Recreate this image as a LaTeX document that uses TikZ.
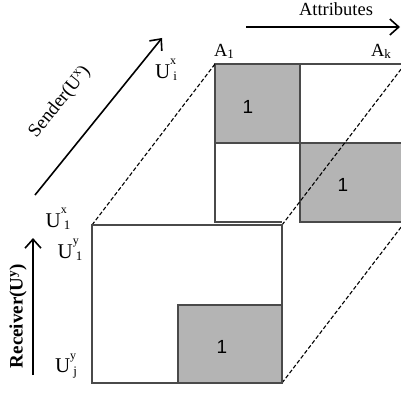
\documentclass[tikz,border=0pt]{standalone}
\usepackage{fontspec}
\setmainfont{Liberation Serif}
\newfontfamily\arialf{Liberation Sans}
\usetikzlibrary{arrows.meta}
\definecolor{cellgray}{HTML}{B4B4B4}
\definecolor{edgegray}{HTML}{4A4A4A}
\newcommand\Usym[2]{U\rlap{\raisebox{0.62em}{\fontsize{12}{12}\selectfont #1}}\hspace{0.15em}\raisebox{-0.12em}{\fontsize{13}{13}\selectfont #2}}
\newcommand\Asym[1]{A\raisebox{-0.1em}{\fontsize{13}{13}\selectfont #1}}
\tikzset{
  cell/.style={draw=edgegray, line width=1.2pt},
  graycell/.style={cell, fill=cellgray},
  dashline/.style={dash pattern=on 4pt off 2.2pt, line width=1.1pt},
  bigarrow/.style={line width=1.6pt, -{Straight Barb[length=9pt,width=16pt,line width=1.6pt]}},
  lbl/.style={inner sep=0pt, font=\fontsize{19}{19}\selectfont},
  ulbl/.style={inner sep=0pt, font=\fontsize{21}{21}\selectfont},
  albl/.style={inner sep=0pt, font=\fontsize{18.5}{18.5}\selectfont},
  onelbl/.style={inner sep=0pt, font=\arialf\fontsize{19}{19}\selectfont},
}
\begin{document}
\begin{tikzpicture}[x=1pt, y=-1pt]
\useasboundingbox (0,0) rectangle (401,393);
\clip (0,0) rectangle (401,393);
% corners
\coordinate (b1) at (215,64);
\coordinate (b2) at (405,64);
\coordinate (b3) at (405,222);
\coordinate (f1) at (92,225);
\coordinate (f2) at (282,225);
\coordinate (f3) at (282,383);
\coordinate (f4) at (92,383);
% back square
\draw[graycell] (215,64) rectangle (300,143);
\draw[cell] (300,64) -- (405,64);
\draw[cell] (215,143) -- (215,222) -- (282,222);
\draw[graycell] (300,143) rectangle (405,222);
% dashed connections
\draw[dashline] (f1) -- (b1);
\draw[dashline] (f2) -- (b2);
\draw[dashline] (f3) -- (b3);
% front square
\draw[cell, fill=white] (f1) -- (f2) -- (f3) -- (f4) -- cycle;
\draw[graycell] (178,305) rectangle (282,383);
% ones
\node[onelbl] (o1) at (248,107) {1};
\node[onelbl] (o2) at (343,185) {1};
\node[onelbl] (o3) at (222,347) {1};
% attributes
\node[albl] (attr) at (336,9) {Attributes};
\coordinate (as) at (246,27);
\coordinate (ae) at (400,27);
\draw[bigarrow] (as) -- (ae);
\node[albl] (a1) at (224,51) {\Asym{1}};
\node[albl] (ak) at (381,51) {\Asym{k}};
% sender
\coordinate (ss) at (35,195);
\coordinate (se) at (162,38);
\draw[bigarrow] (ss) -- (se);
\node[lbl, rotate=51] (snd) at (60,102) {Sender(U\textsuperscript{x})};
\node[ulbl] (uxi) at (166,70) {\Usym{x}{i}};
\node[ulbl] (ux1) at (58,219) {\Usym{x}{1}};
% receiver
\coordinate (rs) at (33,375);
\coordinate (re) at (33,238);
\draw[bigarrow] (rs) -- (re);
\node[lbl, rotate=90, font=\bfseries\fontsize{19}{19}\selectfont] (rcv) at (18,316) {Receiver(U\textsuperscript{y})};
\node[ulbl] (uy1) at (70,250) {\Usym{y}{1}};
\node[ulbl] (uyj) at (66,366) {\Usym{y}{j}};
\end{tikzpicture}
\end{document}
